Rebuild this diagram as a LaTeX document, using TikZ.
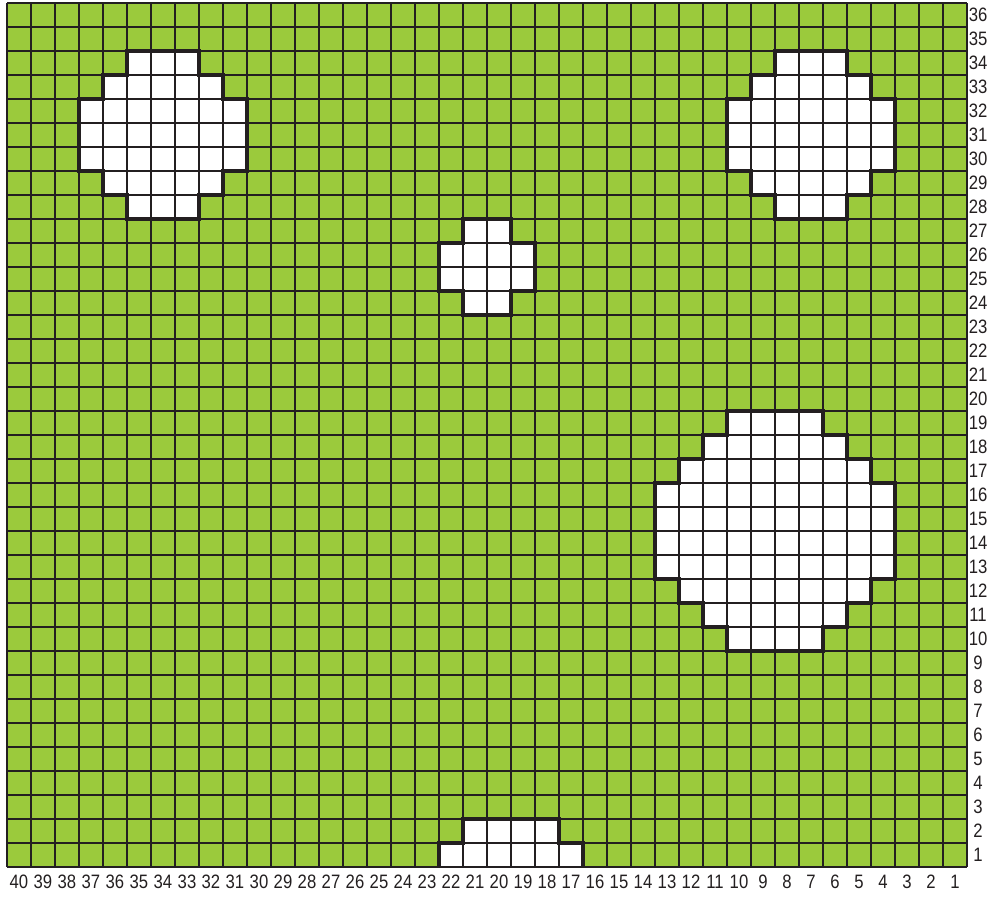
\documentclass[tikz,border=0pt]{standalone}
\usepackage{fontspec}
\setmainfont{Liberation Sans}
\newfontfamily\labfont[FakeStretch=0.86]{Liberation Sans}
\definecolor{leaf}{RGB}{155,202,60}
\definecolor{ink}{RGB}{35,31,32}
\tikzset{
  gridline/.style={draw=ink, line width=0.75pt},
  outline/.style={draw=ink, line width=2.7pt, line join=miter},
  hole/.style={fill=white},
  lab/.style={font=\labfont\fontsize{11.5}{13}\selectfont, text=ink, inner sep=0pt}
}
\begin{document}
\begin{tikzpicture}[x=0.5cm,y=0.5cm]
\useasboundingbox (-0.2917,-1.25) rectangle (41.25,36.125);
% background field
\fill[leaf] (0,0) rectangle (40,36);
% holes (white)
\def\blobA{(5,34)--(8,34)--(8,33)--(9,33)--(9,32)--(10,32)--(10,29)--(9,29)--(9,28)--(8,28)--(8,27)--(5,27)--(5,28)--(4,28)--(4,29)--(3,29)--(3,32)--(4,32)--(4,33)--(5,33)--cycle}
\def\blobB{(32,34)--(35,34)--(35,33)--(36,33)--(36,32)--(37,32)--(37,29)--(36,29)--(36,28)--(35,28)--(35,27)--(32,27)--(32,28)--(31,28)--(31,29)--(30,29)--(30,32)--(31,32)--(31,33)--(32,33)--cycle}
\def\blobC{(19,27)--(21,27)--(21,26)--(22,26)--(22,24)--(21,24)--(21,23)--(19,23)--(19,24)--(18,24)--(18,26)--(19,26)--cycle}
\def\blobD{(30,19)--(34,19)--(34,18)--(35,18)--(35,17)--(36,17)--(36,16)--(37,16)--(37,12)--(36,12)--(36,11)--(35,11)--(35,10)--(34,10)--(34,9)--(30,9)--(30,10)--(29,10)--(29,11)--(28,11)--(28,12)--(27,12)--(27,16)--(28,16)--(28,17)--(29,17)--(29,18)--(30,18)--cycle}
\path[hole] \blobA;
\path[hole] \blobB;
\path[hole] \blobC;
\path[hole] \blobD;
\path[hole] (18,0)--(18,1)--(19,1)--(19,2)--(23,2)--(23,1)--(24,1)--(24,0)--cycle;
% grid
\draw[gridline, step=0.5cm] (0,0) grid (40,36);
% outlines
\draw[outline] \blobA;
\draw[outline] \blobB;
\draw[outline] \blobC;
\draw[outline] \blobD;
\draw[outline] (18,0)--(18,1)--(19,1)--(19,2)--(23,2)--(23,1)--(24,1)--(24,0);
% column labels (40 at left ... 1 at right)
\foreach \c in {1,...,40} {
  \node[lab] (col\c) at ({40-\c+0.5},-0.62) {\c};
}
% row labels
\foreach \r in {1,...,36} {
  \node[lab] (row\r) at (40.46,{\r-0.5}) {\r};
}
\end{tikzpicture}
\end{document}
